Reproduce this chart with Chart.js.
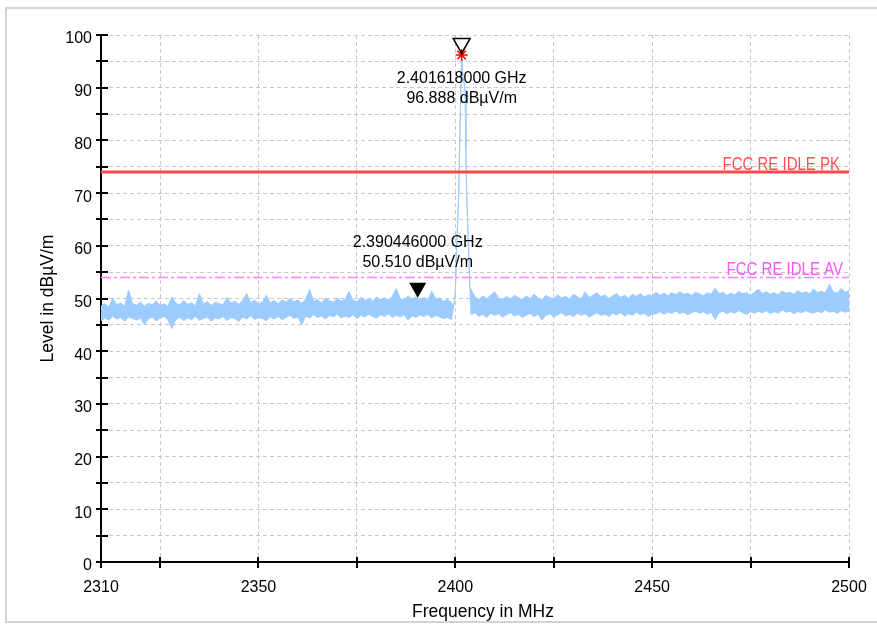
<!DOCTYPE html>
<html>
<head>
<meta charset="utf-8">
<script src="https://cdn.jsdelivr.net/npm/chart.js@4.4.1/dist/chart.umd.min.js"></script>
<style>
  html, body { margin: 0; padding: 0; background: #fff; overflow: hidden; }
  #wrap { position: relative; width: 877px; height: 625px; }
  #frame { position: absolute; left: 5px; top: 7px; width: 900px; height: 612px; border: 2px solid #d2d2d2; }
  canvas { position: absolute; left: 0; top: 0; }
</style>
</head>
<body>
<div id="wrap">
  <div id="frame"></div>
  <canvas id="chart" width="877" height="625"></canvas>
</div>
<script>
// axis ticks
const xTickValues = [2310, 2325, 2350, 2375, 2400, 2425, 2450, 2475, 2500];
const xLabelValues = [2310, 2350, 2400, 2450, 2500];
const yTickValues = [0, 5, 10, 15, 20, 25, 30, 35, 40, 45, 50, 55, 60, 65, 70, 75, 80, 85, 90, 95, 100];
const xTitle = 'Frequency in MHz';
const yTitle = 'Level in dBµV/m';

// noise band below the carrier, 1 MHz steps from 2310 to 2399
const lowBandStart = 2310;
const lowBandUpper = [
  48.6, 49.0, 48.4, 50.1, 48.8, 49.2, 48.5, 51.6, 49.0, 48.7,
  49.3, 48.6, 49.1, 48.8, 49.5, 48.7, 49.0, 48.5, 50.3, 49.1,
  48.8, 49.6, 48.9, 49.2, 48.6, 50.9, 49.0, 49.4, 48.7, 49.3,
  49.0, 48.8, 50.2, 49.1, 49.5, 48.9, 49.6, 50.9, 49.2, 49.7,
  49.0, 49.3, 50.6, 49.2, 49.6, 49.0, 49.8, 49.3, 50.0, 49.4,
  49.7, 49.1, 49.9, 51.7, 49.5, 49.8, 49.2, 50.1, 49.6, 49.3,
  50.0, 49.5, 49.9, 51.3, 49.7, 49.4, 50.2, 49.6, 50.0, 49.5,
  50.3, 49.8, 50.1, 49.7, 50.4, 51.9, 50.0, 49.7, 50.5, 49.9,
  50.3, 49.8, 50.2, 49.6, 51.4, 49.9, 50.1, 49.5, 49.8, 49.3
];
const lowBandLower = [
  45.8, 46.3, 45.9, 46.6, 46.1, 46.4, 45.7, 46.5, 46.2, 45.9,
  46.3, 45.0, 46.1, 46.5, 45.8, 46.2, 46.6, 45.9, 44.3, 46.0,
  46.4, 45.8, 46.3, 46.0, 46.6, 45.9, 46.2, 46.5, 45.7, 46.3,
  46.1, 46.6, 45.8, 46.4, 46.2, 45.6, 46.5, 46.1, 46.7, 46.0,
  46.4, 46.2, 45.8, 46.5, 46.1, 46.6, 46.0, 46.4, 46.8, 46.2,
  46.5, 45.0, 46.7, 46.3, 46.9, 46.4, 46.7, 46.1, 46.8, 46.5,
  47.0, 46.3, 46.7, 46.4, 46.9, 46.2, 46.8, 46.5, 47.0, 46.6,
  46.3, 46.9, 46.6, 47.1, 46.4, 46.8, 46.5, 46.9, 45.9, 46.7,
  46.4, 46.9, 46.6, 47.0, 46.3, 46.8, 46.5, 46.2, 46.4, 46.0
];

// carrier
const peakFreq = [2399.6, 2400.0, 2400.4, 2400.85, 2401.1, 2401.4, 2401.6, 2401.9, 2402.2, 2402.5, 2402.65, 2402.9, 2403.3, 2403.7];
const peakLevel = [48.5, 51.0, 61.0, 69.3, 78.8, 89.6, 96.2, 92.5, 91.0, 89.6, 78.8, 69.3, 61.0, 52.0];

// noise band above the carrier, 1 MHz steps from 2404 to 2500
const highBandStart = 2404;
const highBandUpper = [
  51.7, 50.3, 49.8, 50.5, 50.0, 50.6, 51.3, 50.1, 49.8, 50.4,
  49.9, 50.6, 50.2, 49.7, 50.5, 50.0, 50.8, 50.1, 49.8, 50.6,
  50.2, 49.9, 50.7, 50.1, 50.4, 49.9, 50.8, 50.3, 50.0, 51.3,
  50.2, 50.6, 51.1, 50.3, 50.7, 50.0, 50.5, 50.9, 50.2, 50.6,
  50.1, 50.8, 50.4, 50.9, 50.3, 50.7, 50.5, 51.2, 50.6, 51.0,
  50.5, 51.1, 50.7, 51.3, 50.8, 51.0, 50.6, 51.2, 50.9, 50.5,
  51.1, 50.8, 52.0, 50.9, 51.2, 50.6, 51.0, 50.7, 51.3, 50.9,
  51.1, 50.6, 51.2, 51.8, 50.9, 51.3, 50.8, 51.1, 50.7, 51.4,
  51.0, 51.2, 50.8, 51.5, 51.0, 51.3, 50.9, 51.8, 51.1, 51.4,
  51.0, 52.7, 51.3, 51.0, 51.9, 51.2, 51.5
];
const highBandLower = [
  46.9, 47.3, 46.6, 47.0, 46.4, 47.2, 46.8, 47.1, 46.5, 46.9,
  47.3, 46.7, 47.0, 46.4, 46.8, 47.2, 46.6, 47.0, 45.9, 46.8,
  47.1, 46.5, 46.9, 47.3, 46.7, 47.0, 46.6, 47.2, 46.8, 47.1,
  46.5, 46.9, 47.3, 46.8, 47.0, 46.6, 47.2, 46.9, 47.3, 46.7,
  47.1, 46.8, 47.4, 46.9, 47.2, 46.6, 47.0, 47.1, 47.5, 47.0,
  47.4, 47.2, 47.6, 47.1, 47.4, 46.9, 47.3, 47.6, 47.2, 47.5,
  47.0, 47.4, 46.0, 47.3, 47.6, 47.1, 47.5, 47.2, 47.7, 47.3,
  47.0, 47.5, 47.2, 47.6, 47.3, 47.7, 47.1, 47.5, 47.2, 47.8,
  47.4, 47.6, 47.1, 47.5, 47.3, 47.7, 47.4, 47.2, 47.6, 47.3,
  47.8, 47.4, 47.6, 47.2, 47.7, 47.4, 47.6
];

// limit lines
const limitNames = ['FCC RE IDLE PK', 'FCC RE IDLE AV'];
const limitLevels = [74, 54];

// markers
const markerFreqs = [2401.618, 2390.446];
const markerLevels = [96.888, 50.510];

const traceColor = '#9ccbff';
const fontFamily = '"Liberation Sans", Arial, sans-serif';

function bandPoints(upper) {
  const low = upper ? lowBandUpper : lowBandLower;
  const high = upper ? highBandUpper : highBandLower;
  return [
    ...low.map((v, i) => ({ x: lowBandStart + i, y: v })),
    ...peakFreq.map((f, i) => ({ x: f, y: peakLevel[i] })),
    ...high.map((v, i) => ({ x: highBandStart + i, y: v }))
  ];
}

// crossing tick marks on both axes + x title
const crossTicks = {
  id: 'crossTicks',
  afterDraw(chart) {
    const { ctx, scales: { x, y } } = chart;
    ctx.save();
    ctx.strokeStyle = '#000';
    ctx.lineWidth = 2;
    ctx.beginPath();
    yTickValues.forEach(v => {
      const py = Math.round(y.getPixelForValue(v));
      ctx.moveTo(x.left - 5, py);
      ctx.lineTo(x.left + 7, py);
    });
    xTickValues.forEach(v => {
      const px = Math.round(x.getPixelForValue(v));
      ctx.moveTo(px, y.bottom - 5);
      ctx.lineTo(px, y.bottom + 6);
    });
    ctx.stroke();

    ctx.fillStyle = '#000';
    ctx.font = '17.5px ' + fontFamily;
    ctx.textAlign = 'center';
    ctx.textBaseline = 'middle';
    ctx.fillText(xTitle, (x.left + x.right) / 2 + 8, 612);
    ctx.restore();
  }
};

// limit names and marker triangles with readouts
const annotations = {
  id: 'annotations',
  afterDatasetsDraw(chart) {
    const { ctx, scales: { x, y } } = chart;
    ctx.save();
    ctx.font = '15px ' + fontFamily;
    ctx.textAlign = 'right';
    ctx.textBaseline = 'alphabetic';
    const limitColors = ['#ff5050', '#ff55ff'];
    const limitRight = [x.right - 9, x.right - 6];
    limitLevels.forEach((lv, i) => {
      ctx.save();
      ctx.translate(limitRight[i], y.getPixelForValue(lv) - 2);
      ctx.scale(1, 1.2);
      ctx.fillStyle = limitColors[i];
      ctx.fillText(limitNames[i], 0, 0);
      ctx.restore();
    });

    const labelOffsets = [[27, 47], [-53, -33]];
    ctx.font = '16px ' + fontFamily;
    ctx.textAlign = 'center';
    ctx.textBaseline = 'middle';
    markerFreqs.forEach((f, i) => {
      const px = x.getPixelForValue(f);
      const py = y.getPixelForValue(markerLevels[i]);
      const tip = py + 2;
      ctx.beginPath();
      ctx.moveTo(px, tip);
      ctx.lineTo(px - 8.5, tip - 15);
      ctx.lineTo(px + 8.5, tip - 15);
      ctx.closePath();
      if (i === 0) {
        ctx.strokeStyle = '#000';
        ctx.lineWidth = 1.5;
        ctx.stroke();
      } else {
        ctx.fillStyle = '#000';
        ctx.fill();
      }
      ctx.fillStyle = '#000';
      ctx.fillText((f / 1000).toFixed(9) + ' GHz', px, py + labelOffsets[i][0]);
      ctx.fillText(markerLevels[i].toFixed(3) + ' dBµV/m', px, py + labelOffsets[i][1]);
    });
    ctx.restore();
  }
};

Chart.defaults.font.family = fontFamily;
Chart.defaults.color = '#000';

new Chart(document.getElementById('chart'), {
  type: 'line',
  data: {
    datasets: [
      {
        data: [{ x: 2310, y: limitLevels[0] }, { x: 2500, y: limitLevels[0] }],
        borderColor: '#ff4a4a', borderWidth: 3, pointRadius: 0, fill: false
      },
      {
        data: [{ x: 2310, y: limitLevels[1] }, { x: 2500, y: limitLevels[1] }],
        borderColor: '#ff80ff', borderWidth: 1.5, borderDash: [10, 3, 3, 3], pointRadius: 0, fill: false
      },
      {
        data: [{ x: peakFreq[6], y: peakLevel[6] }],
        showLine: false, pointStyle: 'star', pointRadius: 6,
        pointBorderColor: '#ff0000', pointBorderWidth: 1.5, pointBackgroundColor: '#ff0000'
      },
      {
        data: bandPoints(true),
        borderColor: traceColor, borderWidth: 1, pointRadius: 0, fill: false
      },
      {
        data: bandPoints(false),
        borderColor: traceColor, backgroundColor: traceColor, borderWidth: 1, pointRadius: 0, fill: '-1'
      }
    ]
  },
  options: {
    responsive: false,
    animation: false,
    devicePixelRatio: 1,
    layout: { padding: { left: 0, right: 28, top: 35, bottom: 0 } },
    plugins: { legend: { display: false }, tooltip: { enabled: false } },
    scales: {
      x: {
        type: 'linear', min: 2310, max: 2500,
        afterFit: s => { s.height = 63; },
        afterBuildTicks: s => { s.ticks = xTickValues.map(v => ({ value: v })); },
        ticks: {
          autoSkip: false, maxRotation: 0, padding: 10,
          font: { size: 16 },
          callback: v => xLabelValues.includes(v) ? String(v) : ''
        },
        grid: { color: '#c8c8c8', lineWidth: 1, drawTicks: true, tickLength: 6, tickColor: 'rgba(0,0,0,0)' },
        border: { display: true, color: '#000', width: 2, dash: [4, 3] }
      },
      y: {
        min: 0, max: 100,
        afterFit: s => { s.width = 101; },
        afterBuildTicks: s => { s.ticks = yTickValues.map(v => ({ value: v })); },
        ticks: {
          autoSkip: false, padding: 9, labelOffset: 4,
          font: { size: 16 },
          callback: v => v % 10 === 0 ? String(v) : ''
        },
        grid: { color: '#c8c8c8', lineWidth: 1, drawTicks: false },
        border: { display: true, color: '#000', width: 2, dash: [4, 3] },
        title: { display: true, text: yTitle, font: { size: 17.5 }, padding: { top: 38, bottom: 0 } }
      }
    }
  },
  plugins: [crossTicks, annotations]
});
</script>
</body>
</html>
